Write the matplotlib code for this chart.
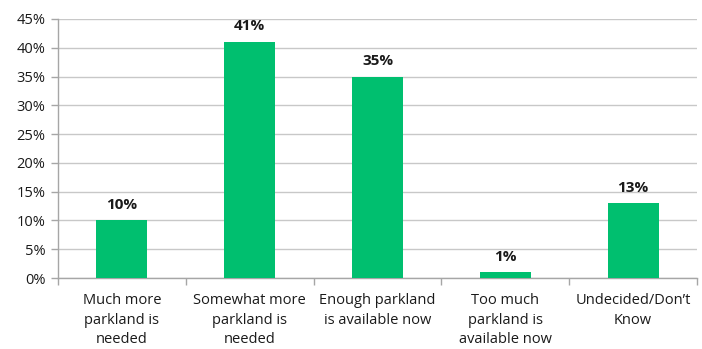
import matplotlib
matplotlib.use("Agg")
import matplotlib.pyplot as plt
from matplotlib.ticker import FuncFormatter, MultipleLocator, FixedLocator

categories = [
    "Much more\nparkland is\nneeded",
    "Somewhat more\nparkland is\nneeded",
    "Enough parkland\nis available now",
    "Too much\nparkland is\navailable now",
    "Undecided/Don\u2019t\nKnow",
]
values = [10, 41, 35, 1, 13]

bar_color = "#00BF6F"
grid_color = "#C8C8C8"
axis_color = "#A6A6A6"
text_color = "#1A1A1A"

plt.rcParams["font.family"] = ["Open Sans", "DejaVu Sans"]

fig = plt.figure(figsize=(7.02, 3.49), dpi=100)
ax = fig.add_axes([0.0826, 0.2034, 0.9104, 0.7422])

x = list(range(len(categories)))
ax.bar(x, values, width=0.4, color=bar_color, zorder=3)

for xi, v in zip(x, values):
    ax.text(xi, v + 1.5, f"{v}%", ha="center", va="bottom",
            fontsize=11, fontweight="bold", color=text_color, zorder=4)

ax.set_xlim(-0.5, len(categories) - 0.5)
ax.set_ylim(0, 45)
ax.yaxis.set_major_locator(MultipleLocator(5))
ax.yaxis.set_major_formatter(FuncFormatter(lambda v, p: f"{int(round(v))}%"))
ax.grid(axis="y", color=grid_color, linewidth=1.0, zorder=0)

ax.set_xticks(x)
ax.set_xticklabels(categories, fontsize=10.5, color=text_color, linespacing=1.4)
ax.tick_params(axis="x", length=0, pad=11)
ax.xaxis.set_minor_locator(FixedLocator([i - 0.5 for i in range(len(categories) + 1)]))
ax.tick_params(axis="x", which="minor", length=5, color=axis_color, width=1)
ax.tick_params(axis="y", length=5, color=axis_color, width=1,
               labelsize=10.5, labelcolor=text_color, pad=4)

for side in ("top", "right"):
    ax.spines[side].set_visible(False)
for side in ("left", "bottom"):
    ax.spines[side].set_color(axis_color)
    ax.spines[side].set_linewidth(1)

fig.savefig("out.png", dpi=100)
